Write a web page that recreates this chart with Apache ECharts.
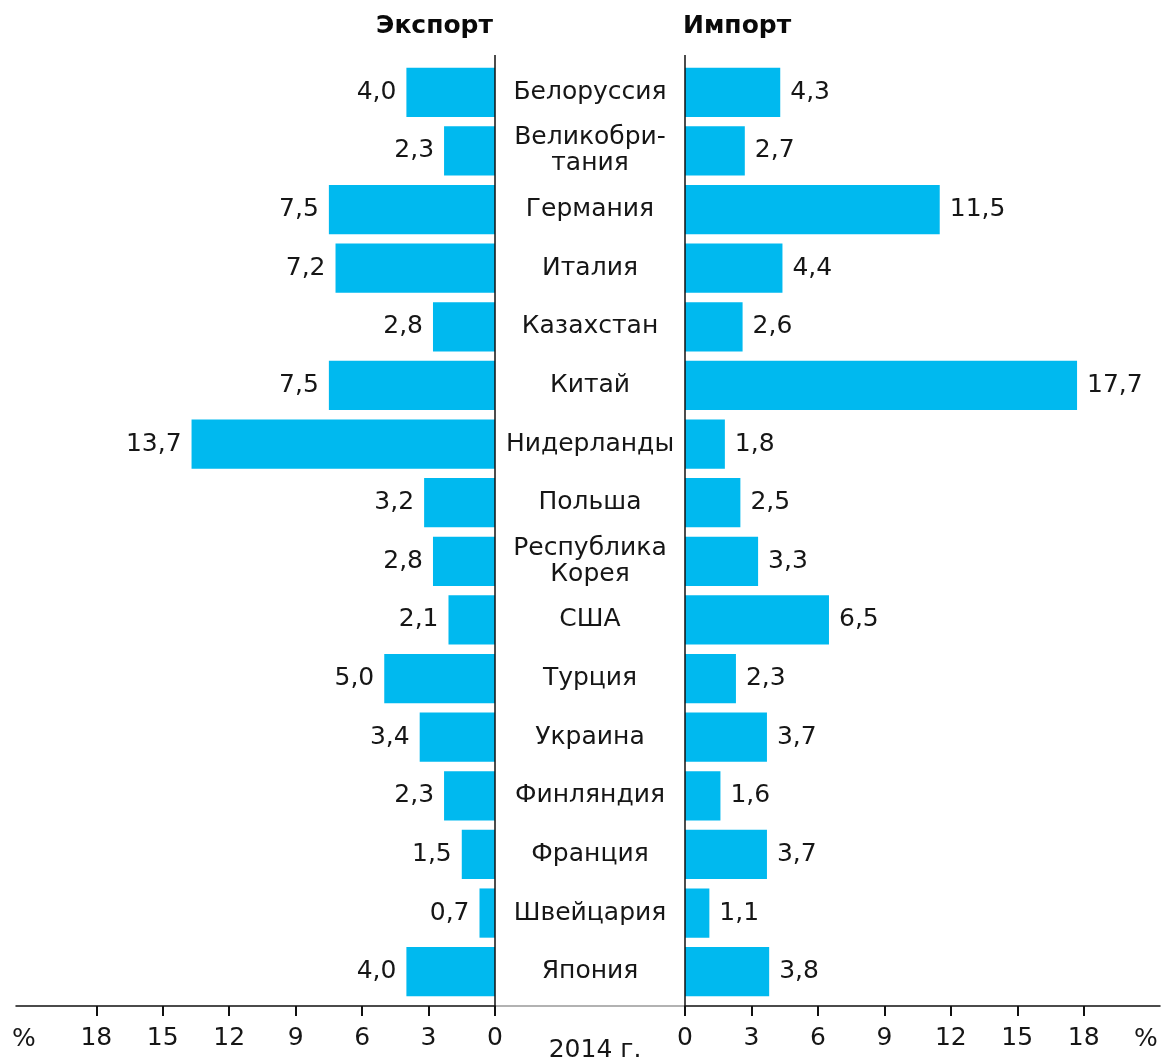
<!DOCTYPE html>
<html>
<head>
<meta charset="utf-8">
<script src="https://cdn.jsdelivr.net/npm/echarts@6/dist/echarts.min.js"></script>
<style>
html,body{margin:0;padding:0;background:#fff}
#chart{width:1164px;height:1062px}
</style>
</head>
<body>
<div id="chart"></div>
<script>
// Trading partners, shares of foreign trade in 2014, %
const countries = [
  'Белоруссия', 'Великобри-\nтания', 'Германия', 'Италия', 'Казахстан', 'Китай',
  'Нидерланды', 'Польша', 'Республика\nКорея', 'США', 'Турция', 'Украина',
  'Финляндия', 'Франция', 'Швейцария', 'Япония'
];
const exportShare = [4.0, 2.3, 7.5, 7.2, 2.8, 7.5, 13.7, 3.2, 2.8, 2.1, 5.0, 3.4, 2.3, 1.5, 0.7, 4.0];
const importShare = [4.3, 2.7, 11.5, 4.4, 2.6, 17.7, 1.8, 2.5, 3.3, 6.5, 2.3, 3.7, 1.6, 3.7, 1.1, 3.8];
const tickValues = [0, 3, 6, 9, 12, 15, 18];

// layout
const FONT = '"DejaVu Sans", "Liberation Sans", Arial, sans-serif';
const FS = 25;
const TEXT = '#161616';
const BAR = '#00B9EF';
const TOP = 63, GRID_BOTTOM = 1001, AXIS_SHIFT = 5;
const AXIS_Y = GRID_BOTTOM + AXIS_SHIFT;
const L_LEFT = 16, L_RIGHT = 495;
const R_LEFT = 685, R_RIGHT = 1160;
const PX_PER_UNIT = 22.15;

const fmt = v => v.toFixed(1).replace('.', ',');

const xAxisCommon = {
  type: 'value',
  min: 0,
  offset: AXIS_SHIFT,
  splitLine: { show: false },
  axisLine: { show: true, lineStyle: { color: '#111', width: 1.5 } },
  axisTick: { show: true, customValues: tickValues, length: 10, lineStyle: { color: '#111', width: 2 } },
  axisLabel: { customValues: tickValues, fontFamily: FONT, fontSize: FS, color: TEXT, margin: 20 }
};

const chart = echarts.init(document.getElementById('chart'), null, { renderer: 'canvas' });
chart.setOption({
  animation: false,
  backgroundColor: '#fff',
  grid: [
    { left: L_LEFT, width: L_RIGHT - L_LEFT, top: TOP, height: GRID_BOTTOM - TOP },
    { left: R_LEFT, width: R_RIGHT - R_LEFT, top: TOP, height: GRID_BOTTOM - TOP }
  ],
  xAxis: [
    Object.assign({}, xAxisCommon, { gridIndex: 0, inverse: true, max: (L_RIGHT - L_LEFT) / PX_PER_UNIT }),
    Object.assign({}, xAxisCommon, { gridIndex: 1, max: (R_RIGHT - R_LEFT) / PX_PER_UNIT })
  ],
  yAxis: [
    {
      type: 'category', gridIndex: 0, data: countries, inverse: true, position: 'right',
      axisLine: { show: false }, axisTick: { show: false },
      axisLabel: {
        align: 'center', margin: 95, fontFamily: FONT, fontSize: FS, lineHeight: 26, color: TEXT
      }
    },
    {
      type: 'category', gridIndex: 1, data: countries, inverse: true,
      axisLine: { show: false }, axisTick: { show: false }, axisLabel: { show: false }
    }
  ],
  series: [
    {
      type: 'bar', xAxisIndex: 0, yAxisIndex: 0, data: exportShare,
      barCategoryGap: '16%',
      itemStyle: { color: BAR },
      label: {
        show: true, position: 'left', distance: 10, formatter: p => fmt(p.value),
        fontFamily: FONT, fontSize: FS, color: TEXT
      }
    },
    {
      type: 'bar', xAxisIndex: 1, yAxisIndex: 1, data: importShare,
      barCategoryGap: '16%',
      itemStyle: { color: BAR },
      label: {
        show: true, position: 'right', distance: 10, formatter: p => fmt(p.value),
        fontFamily: FONT, fontSize: FS, color: TEXT
      }
    }
  ],
  graphic: [
    // column headers
    { type: 'text', x: L_RIGHT - 2, y: 26, style: { text: 'Экспорт', font: 'bold 25px ' + FONT, fill: '#0a0a0a', textAlign: 'right', textVerticalAlign: 'middle' } },
    { type: 'text', x: R_LEFT - 2, y: 26, style: { text: 'Импорт', font: 'bold 25px ' + FONT, fill: '#0a0a0a', textAlign: 'left', textVerticalAlign: 'middle' } },
    // zero rules bounding the country names
    { type: 'line', shape: { x1: L_RIGHT, y1: 55, x2: L_RIGHT, y2: AXIS_Y }, style: { stroke: '#111', lineWidth: 1.5 }, z: 10 },
    { type: 'line', shape: { x1: R_LEFT, y1: 55, x2: R_LEFT, y2: AXIS_Y }, style: { stroke: '#111', lineWidth: 1.5 }, z: 10 },
    { type: 'line', shape: { x1: L_RIGHT, y1: AXIS_Y, x2: R_LEFT, y2: AXIS_Y }, style: { stroke: '#999', lineWidth: 1.5 } },
    // unit marks and year
    { type: 'text', x: 24, y: 1039, style: { text: '%', font: FS + 'px ' + FONT, fill: TEXT, textAlign: 'center', textVerticalAlign: 'middle' } },
    { type: 'text', x: 1146, y: 1039, style: { text: '%', font: FS + 'px ' + FONT, fill: TEXT, textAlign: 'center', textVerticalAlign: 'middle' } },
    { type: 'text', x: 595, y: 1050, style: { text: '2014 г.', font: FS + 'px ' + FONT, fill: TEXT, textAlign: 'center', textVerticalAlign: 'middle' } }
  ]
});
</script>
</body>
</html>
